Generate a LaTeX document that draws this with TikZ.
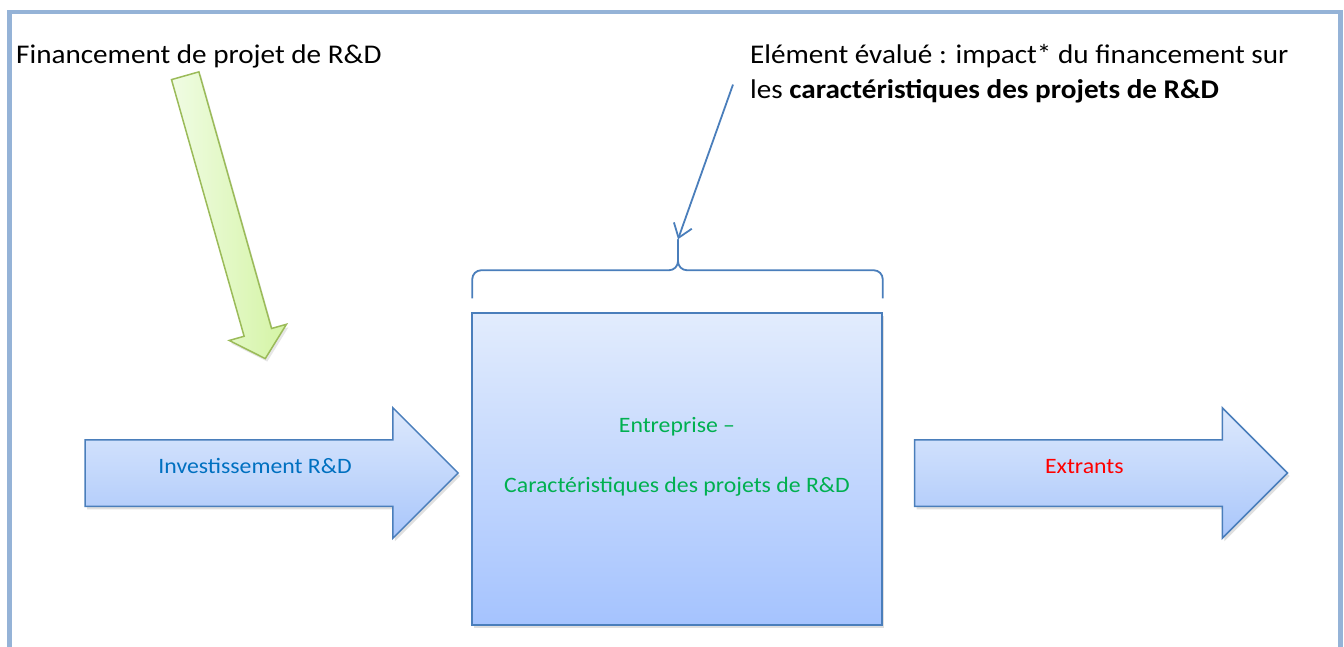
\documentclass[tikz,border=0pt]{standalone}
\usepackage{fontspec}
\setmainfont{Carlito}[FakeStretch=1.08]
\usepackage{xcolor}
\usetikzlibrary{arrows.meta,calc,positioning,shapes.arrows,shadows}
\definecolor{framecol}{HTML}{95B3D7}
\definecolor{edgeblue}{HTML}{4A7EBB}
\definecolor{flowtop}{HTML}{DDE9FC}
\definecolor{flowbottom}{HTML}{A9C6FB}
\definecolor{boxtop}{HTML}{E2ECFD}
\definecolor{boxbottom}{HTML}{A5C3FE}
\definecolor{fundedge}{HTML}{9BBB59}
\definecolor{fundtop}{HTML}{F0FCE4}
\definecolor{fundbottom}{HTML}{D4F4A4}
\definecolor{investblue}{HTML}{0070C0}
\definecolor{firmgreen}{HTML}{00B050}
\tikzset{%
	flow/.style     = {single arrow, draw=edgeblue, line width=1.5pt, top color=flowtop, bottom color=flowbottom, text height=32.5pt, text depth=32.5pt, inner sep=0pt, minimum height=373pt, single arrow head extend=32pt, font=\fontsize{22}{26}\selectfont, drop shadow={opacity=0.25, shadow xshift=2pt, shadow yshift=-3pt}},
	fund/.style     = {single arrow, draw=fundedge, line width=1.5pt, left color=fundtop, right color=fundbottom, text height=13.5pt, text depth=13.5pt, inner sep=0pt, minimum height=294pt, single arrow head extend=15.5pt, single arrow tip angle=95, drop shadow={opacity=0.2, shadow xshift=2pt, shadow yshift=-3pt}},
	firmbox/.style  = {draw=edgeblue, line width=1.5pt, rectangle, top color=boxtop, bottom color=boxbottom, minimum width=410pt, minimum height=312pt, drop shadow={opacity=0.25, shadow xshift=2pt, shadow yshift=-3pt}},
	firmtext/.style = {align=center, text=firmgreen, inner sep=0pt, font=\fontsize{22}{26}\selectfont},
	caption/.style  = {inner sep=0pt, font=\fontsize{27}{35}\selectfont},
	brace/.style    = {draw=edgeblue, line width=1.8pt, rounded corners=9pt},
	note/.style     = {draw=edgeblue, line width=1.8pt, -{Straight Barb[length=13pt,width=19pt]}},
}
\begin{document}
\begin{tikzpicture}[x=1pt,y=-1pt]
	\useasboundingbox (0,0) rectangle (1344,646);
	% outer frame, cut at the bottom
	\draw[framecol, line width=4.5pt] (9.5,660) |- (1340.5,12) -- (1340.5,660);

	\node [firmbox] (firm) at (677,469) {};
	\node [firmtext] (firmtxt) at ($(firm.center)+(0,-12)$) {Entreprise --\\[34pt]Caractéristiques des projets de R\&D};
	\node [flow, left=12pt of firm, yshift=-4pt, text=investblue] (invest) {Investissement R\&D};
	\node [flow, right=31pt of firm, yshift=-4pt, text=red] (outputs) {Extrants};
	\node [fund, anchor=tail, rotate=-74.2] (funding) at (185,75) {};

	\node [caption, anchor=base west] (fundtxt) at (16,63) {Financement de projet de R\&D};
	\node [caption, anchor=north west, align=left] (evalnote) at (750,44) {Elément évalué : impact* du financement sur\\les \textbf{caractéristiques des projets de R\&D}};

	% brace over the firm
	\coordinate (bracetip) at ($(firm.north)+(1,-73)$);
	\draw[brace] ($(firm.north west)+(1,-14)$) |- ($(firm.north)+(1,-42)$) -- (bracetip);
	\draw[brace] ($(firm.north east)+(0,-14)$) |- ($(firm.north)+(1,-42)$) -- (bracetip);
	\draw[note] ([xshift=-17pt,yshift=-11pt]evalnote.west) -- (bracetip);
\end{tikzpicture}
\end{document}
